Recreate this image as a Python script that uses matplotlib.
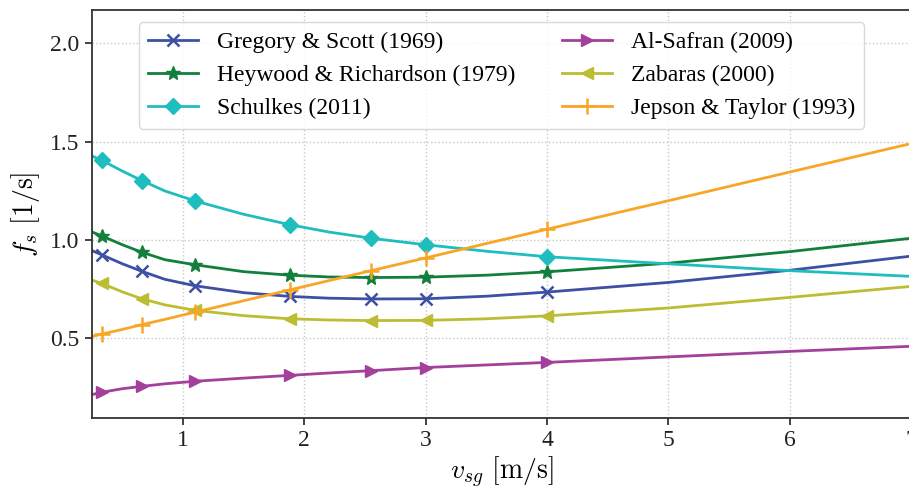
import matplotlib
matplotlib.use("Agg")
import matplotlib.pyplot as plt

plt.rcParams['font.family'] = ['Liberation Serif', 'DejaVu Serif']
plt.rcParams['mathtext.fontset'] = 'cm'

# Sampled curve positions (superficial gas velocity, m/s)
v_sg = [0.25, 0.33, 0.5, 0.66, 0.85, 1.1, 1.5, 1.88, 2.2, 2.55, 3.0, 3.5, 4.0, 5.0, 6.0, 7.0]
# Positions that carry a marker
v_marker = [0.33, 0.66, 1.1, 1.88, 2.55, 3.0, 4.0]

gregory = [0.945, 0.924, 0.878, 0.840, 0.799, 0.766, 0.731, 0.712, 0.703, 0.699, 0.700, 0.713, 0.734, 0.783, 0.845, 0.917]
heywood = [1.040, 1.020, 0.975, 0.937, 0.899, 0.873, 0.838, 0.820, 0.811, 0.808, 0.810, 0.820, 0.837, 0.881, 0.940, 1.008]
schulkes = [1.427, 1.405, 1.350, 1.302, 1.249, 1.198, 1.130, 1.077, 1.040, 1.008, 0.975, 0.942, 0.914, 0.878, 0.843, 0.814]
alsafran = [0.212, 0.224, 0.242, 0.254, 0.267, 0.280, 0.296, 0.310, 0.322, 0.334, 0.350, 0.363, 0.376, 0.404, 0.432, 0.458]
zabaras = [0.795, 0.778, 0.735, 0.700, 0.669, 0.641, 0.614, 0.598, 0.592, 0.589, 0.590, 0.598, 0.613, 0.653, 0.707, 0.763]
jepson = [0.508, 0.520, 0.544, 0.568, 0.595, 0.632, 0.690, 0.745, 0.792, 0.843, 0.908, 0.981, 1.054, 1.199, 1.345, 1.490]

labels = ["Gregory & Scott (1969)", "Heywood & Richardson (1979)", "Schulkes (2011)",
          "Al-Safran (2009)", "Zabaras (2000)", "Jepson & Taylor (1993)"]
series = [gregory, heywood, schulkes, alsafran, zabaras, jepson]
colors = ["#3d50a3", "#12803c", "#1fbdbd", "#a3409c", "#bcbd32", "#f9a526"]
markers = ["x", "*", "D", ">", "<", "+"]
msizes = [9, 10, 8, 9, 9, 12]

fig = plt.figure(figsize=(9.09, 4.92), dpi=100)
ax = fig.add_axes([92 / 909, (492 - 418) / 492, (911 - 92) / 909, (418 - 10) / 492])

mark_idx = [v_sg.index(v) for v in v_marker]
for y, lab, c, m, ms in zip(series, labels, colors, markers, msizes):
    ax.plot(v_sg, y, color=c, lw=2.0, marker=m, markersize=ms, markevery=mark_idx,
            markeredgewidth=1.8 if m in ("x", "+") else 1.0, label=lab)

ax.set_xlim(0.25, 7.0)
ax.set_ylim(0.093, 2.17)
ax.set_xticks([1, 2, 3, 4, 5, 6, 7])
ax.set_yticks([0.5, 1.0, 1.5, 2.0])
ax.set_yticklabels(["0.5", "1.0", "1.5", "2.0"])
ax.grid(True, linestyle=':', color='#c8c8c8', linewidth=1.0)
ax.tick_params(axis='both', labelsize=17, direction='out', length=5, width=1.2,
               colors='#222222', top=False, right=False, pad=4)
for s in ax.spines.values():
    s.set_color('#333333')
    s.set_linewidth(1.3)
ax.spines['right'].set_visible(False)

ax.set_xlabel(r"$v_{sg}\ [\mathrm{m/s}]$", fontsize=20, labelpad=2)
ax.set_ylabel(r"$f_s\ [1/\mathrm{s}]$", fontsize=20, labelpad=6)

leg = ax.legend(loc='upper center', ncol=2, fontsize=17, frameon=True,
                columnspacing=2.0, handlelength=2.1,
                labelspacing=0.5, borderpad=0.4)
leg.get_frame().set_edgecolor('#d0d0d0')
leg.get_frame().set_linewidth(1.0)

fig.savefig("out.png", dpi=100)
